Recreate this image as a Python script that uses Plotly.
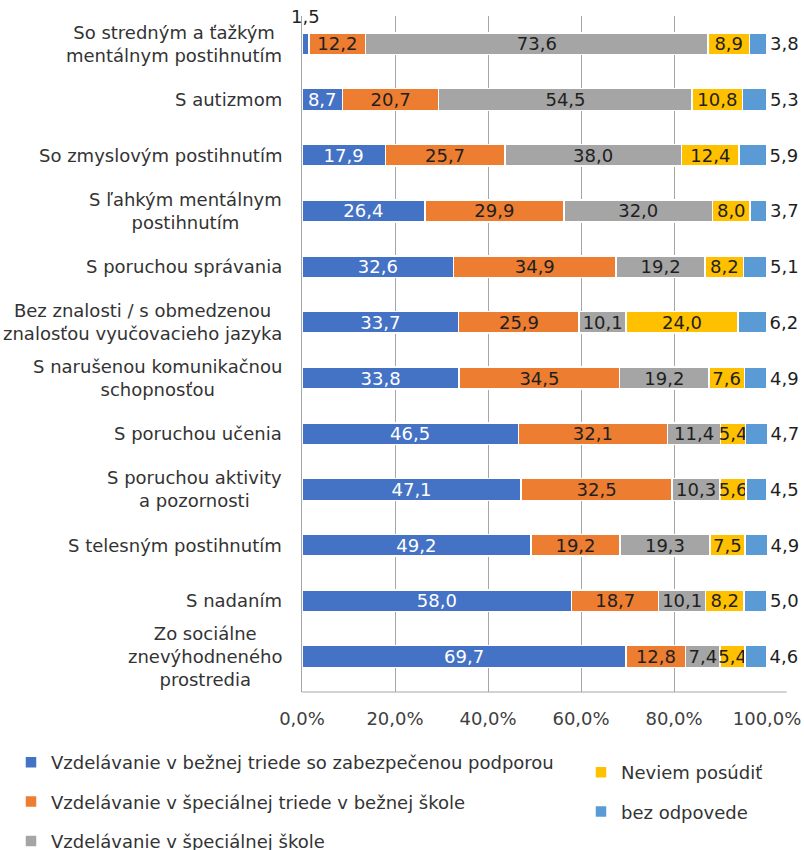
import plotly.graph_objects as go

FONT = "DejaVu Sans"

categories = [
    "So stredným a ťažkým<br>mentálnym postihnutím",
    "S autizmom",
    "So zmyslovým postihnutím",
    "S ľahkým mentálnym<br>postihnutím",
    "S poruchou správania",
    "Bez znalosti / s obmedzenou<br>znalosťou vyučovacieho jazyka",
    "S narušenou komunikačnou<br>schopnosťou",
    "S poruchou učenia",
    "S poruchou aktivity<br>a pozornosti",
    "S telesným postihnutím",
    "S nadaním",
    "Zo sociálne<br>znevýhodneného<br>prostredia",
]

series_names = [
    "Vzdelávanie v bežnej triede so zabezpečenou podporou",
    "Vzdelávanie v špeciálnej triede v bežnej škole",
    "Vzdelávanie v špeciálnej škole",
    "Neviem posúdiť",
    "bez odpovede",
]

bezna_trieda = [1.5, 8.7, 17.9, 26.4, 32.6, 33.7, 33.8, 46.5, 47.1, 49.2, 58.0, 69.7]
specialna_trieda = [12.2, 20.7, 25.7, 29.9, 34.9, 25.9, 34.5, 32.1, 32.5, 19.2, 18.7, 12.8]
specialna_skola = [73.6, 54.5, 38.0, 32.0, 19.2, 10.1, 19.2, 11.4, 10.3, 19.3, 10.1, 7.4]
neviem = [8.9, 10.8, 12.4, 8.0, 8.2, 24.0, 7.6, 5.4, 5.6, 7.5, 8.2, 5.4]
bez_odpovede = [3.8, 5.3, 5.9, 3.7, 5.1, 6.2, 4.9, 4.7, 4.5, 4.9, 5.0, 4.6]

tick_vals = [0, 20, 40, 60, 80, 100]
tick_text = ["0,0%", "20,0%", "40,0%", "60,0%", "80,0%", "100,0%"]

colors = ["#4472C4", "#ED7D31", "#A5A5A5", "#FFC000", "#5B9BD5"]
text_colors = ["#FFFFFF", "#1F1F1F", "#1F1F1F", "#1F1F1F", "#1F1F1F"]
legend_ids = ["legend", "legend", "legend", "legend2", "legend2"]
all_values = [bezna_trieda, specialna_trieda, specialna_skola, neviem, bez_odpovede]

FS = 18


def fmt(v):
    return f"{v:.1f}".replace(".", ",")


fig = go.Figure()
for i, (name, vals) in enumerate(zip(series_names, all_values)):
    texts = [fmt(v) for v in vals]
    if i == 0:
        texts[0] = ""  # too small, labelled above the bar
    last = i == len(all_values) - 1
    fig.add_trace(go.Bar(
        y=categories, x=vals, orientation="h", name=name,
        marker=dict(color=colors[i], line=dict(color="white", width=1.5)),
        text=texts,
        textposition="outside" if last else "inside",
        insidetextanchor="middle",
        textangle=0,
        constraintext="none",
        cliponaxis=False,
        textfont=dict(family=FONT, size=FS, color=text_colors[i]),
        legend=legend_ids[i], legendgroup=name,
        hoverinfo="skip",
    ))

# label for the tiny first value
fig.add_annotation(x=bezna_trieda[0] / 2, y=categories[0], xref="x", yref="y",
                   text=fmt(bezna_trieda[0]), showarrow=False, yshift=27,
                   font=dict(family=FONT, size=FS, color="#1F1F1F"))

# category labels (centered multi-line, right-aligned block)
for cat in categories:
    lines = cat.split("<br>")
    txt = "<br>".join(f"<span style='font-size:{FS}px'>{l}</span>" for l in lines)
    fig.add_annotation(x=0, xref="paper", y=cat, yref="y", xanchor="right",
                       xshift=-18, text=txt, align="center", showarrow=False,
                       font=dict(family=FONT, size=17.7, color="#333333"))

# bottom axis line (extends slightly beyond the plot area)
fig.add_shape(type="line", xref="x domain", yref="y domain", x0=0, x1=1.04,
              y0=0, y1=0, line=dict(color="#A6A6A6", width=1))

fig.update_layout(
    width=804, height=850,
    margin=dict(l=302, r=36, t=16, b=158, autoexpand=False),
    barmode="stack", bargap=0.61,
    plot_bgcolor="white", paper_bgcolor="white",
    font=dict(family=FONT, size=FS, color="#333333"),
    xaxis=dict(range=[0, 100.2], tickvals=tick_vals, ticktext=tick_text,
               showgrid=True, gridcolor="#A6A6A6", gridwidth=1, zeroline=False,
               showline=False, ticks="", ticklabelstandoff=14, tickangle=0,
               tickfont=dict(family=FONT, size=FS, color="#404040")),
    yaxis=dict(autorange="reversed", showticklabels=False, ticks="",
               showline=True, linecolor="#A6A6A6", linewidth=1, showgrid=False),
    legend=dict(xref="container", yref="container", x=11 / 804, y=1 - 744 / 850,
                xanchor="left", yanchor="top", orientation="v",
                traceorder="grouped", tracegroupgap=13,
                font=dict(family=FONT, size=FS, color="#333333"),
                bgcolor="rgba(0,0,0,0)"),
    legend2=dict(xref="container", yref="container", x=581 / 804, y=1 - 754 / 850,
                 xanchor="left", yanchor="top", orientation="v",
                 traceorder="grouped", tracegroupgap=13,
                 font=dict(family=FONT, size=FS, color="#333333"),
                 bgcolor="rgba(0,0,0,0)"),
    showlegend=True,
)

fig.write_html("out.html")
